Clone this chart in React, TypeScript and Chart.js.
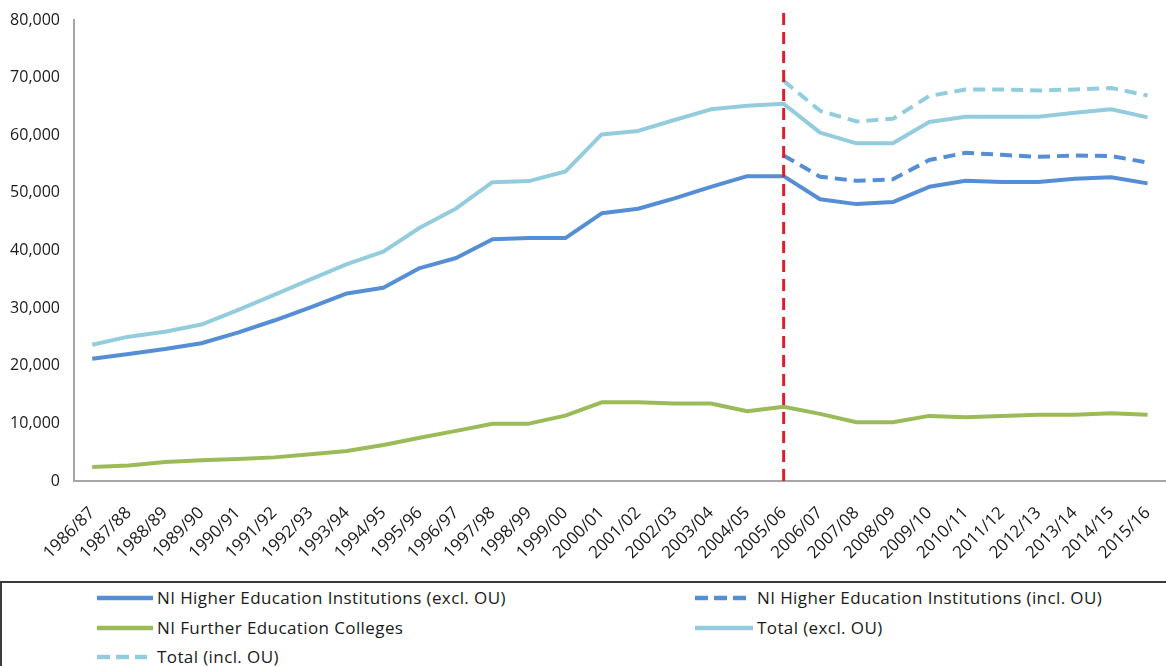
import React, { useEffect, useRef } from "react";
import { Chart, registerables } from "chart.js";

Chart.register(...registerables);

const years = [
  "1986/87", "1987/88", "1988/89", "1989/90", "1990/91", "1991/92", "1992/93", "1993/94",
  "1994/95", "1995/96", "1996/97", "1997/98", "1998/99", "1999/00", "2000/01", "2001/02",
  "2002/03", "2003/04", "2004/05", "2005/06", "2006/07", "2007/08", "2008/09", "2009/10",
  "2010/11", "2011/12", "2012/13", "2013/14", "2014/15", "2015/16",
];

const heiExcl = [
  21200, 22050, 22900, 23900, 25750, 27850, 30150, 32550, 33550, 36950, 38700, 41950,
  42150, 42150, 46450, 47250, 49050, 51050, 52900, 52900, 48900, 48050, 48400, 51050,
  52100, 51900, 51900, 52450, 52700, 51650,
];

const heiIncl = [
  null, null, null, null, null, null, null, null, null, null, null, null, null, null, null,
  null, null, null, null, 56500, 52800, 52100, 52350, 55700, 56950, 56600, 56250, 56500,
  56400, 55250,
];

const feColleges = [
  2450, 2700, 3300, 3600, 3800, 4100, 4650, 5200, 6250, 7500, 8700, 9950, 9950, 11350,
  13650, 13650, 13450, 13450, 12100, 12900, 11650, 10200, 10200, 11300, 11050, 11300,
  11500, 11500, 11750, 11500,
];

const totalExcl = [
  23650, 25050, 25900, 27150, 29650, 32300, 35000, 37650, 39800, 43950, 47300, 51850,
  52050, 53700, 60150, 60750, 62650, 64500, 65100, 65450, 60450, 58600, 58600, 62300,
  63200, 63200, 63200, 63900, 64500, 63100,
];

const totalIncl = [
  null, null, null, null, null, null, null, null, null, null, null, null, null, null, null,
  null, null, null, null, 69450, 64250, 62400, 62850, 66800, 67950, 67950, 67750, 67950,
  68200, 66900,
];

const seriesNames = [
  "NI Higher Education Institutions (excl. OU)",
  "NI Higher Education Institutions (incl. OU)",
  "NI Further Education Colleges",
  "Total (excl. OU)",
  "Total (incl. OU)",
];

const markerYear = "2005/06";

const DARK_BLUE = "#558ed5";
const LIGHT_BLUE = "#93cddd";
const GREEN = "#9bbb59";
const RED = "#dd2027";
const FONT = "'Open Sans', 'Noto Sans', sans-serif";

const W = 1176;
const H = 580;

const markerPlugin = {
  id: "markerLine",
  afterDatasetsDraw(chart: any) {
    const x = chart.scales.x.getPixelForValue(years.indexOf(markerYear));
    const ctx = chart.ctx;
    ctx.save();
    ctx.strokeStyle = RED;
    ctx.lineWidth = 3;
    ctx.setLineDash([12, 7]);
    ctx.beginPath();
    ctx.moveTo(x, chart.chartArea.top - 7);
    ctx.lineTo(x, chart.chartArea.bottom);
    ctx.stroke();
    ctx.restore();
  },
};

const legendItems = [
  { name: seriesNames[0], color: DARK_BLUE, dash: false, col: 0, row: 0 },
  { name: seriesNames[1], color: DARK_BLUE, dash: true, col: 1, row: 0 },
  { name: seriesNames[2], color: GREEN, dash: false, col: 0, row: 1 },
  { name: seriesNames[3], color: LIGHT_BLUE, dash: false, col: 1, row: 1 },
  { name: seriesNames[4], color: LIGHT_BLUE, dash: true, col: 0, row: 2 },
];

export default function App() {
  const ref = useRef<HTMLCanvasElement>(null);

  useEffect(() => {
    if (!ref.current) return;
    const mk = (label: string, data: any[], color: string, dashed: boolean) => ({
      label,
      data,
      borderColor: color,
      backgroundColor: color,
      borderWidth: 4,
      borderDash: dashed ? [12, 7] : [],
      pointRadius: 0,
      tension: 0,
      fill: false,
      borderJoinStyle: "round" as const,
    });
    const chart = new Chart(ref.current, {
      type: "line",
      data: {
        labels: years,
        datasets: [
          mk(seriesNames[2], feColleges, GREEN, false),
          mk(seriesNames[3], totalExcl, LIGHT_BLUE, false),
          mk(seriesNames[4], totalIncl, LIGHT_BLUE, true),
          mk(seriesNames[0], heiExcl, DARK_BLUE, false),
          mk(seriesNames[1], heiIncl, DARK_BLUE, true),
        ],
      },
      options: {
        responsive: false,
        animation: false,
        devicePixelRatio: 1,
        layout: { padding: { top: 20, left: 0, right: 0, bottom: 0 } },
        plugins: {
          legend: { display: false },
          tooltip: { enabled: false },
        },
        scales: {
          x: {
            type: "category",
            offset: true,
            grid: { display: false },
            border: { display: true, color: "#a6a6a6", width: 2 },
            ticks: {
              minRotation: 45,
              maxRotation: 45,
              autoSkip: false,
              padding: 14,
              color: "#1a1a1a",
              font: { family: FONT, size: 17 },
            },
            afterFit: (s: any) => {
              s.height = 99;
            },
          },
          y: {
            min: 0,
            max: 80000,
            grid: { display: false },
            border: { display: true, color: "#a6a6a6", width: 2 },
            ticks: {
              stepSize: 10000,
              padding: 6,
              color: "#1a1a1a",
              font: { family: FONT, size: 16 },
            },
            afterFit: (s: any) => {
              s.width = 74;
            },
          },
        },
      },
      plugins: [markerPlugin],
    });
    return () => chart.destroy();
  }, []);

  return (
    <div>
      <div style={{ position: "fixed", left: 0, top: 0, width: W, height: H }}>
        <canvas ref={ref} width={W} height={H} style={{ width: W, height: H }} />
      </div>
      <div
        style={{
          position: "fixed",
          left: 0,
          top: 581,
          width: 1200,
          height: 120,
          border: "2px solid #3c3c3c",
          boxSizing: "border-box",
          background: "#fff",
          fontFamily: FONT,
          fontSize: 17,
          letterSpacing: "0.4px",
          color: "#1a1a1a",
        }}
      >
        {legendItems.map((it, i) => {
          const cy = 15 + it.row * 29.5;
          const sx = it.col === 0 ? 95 : 693;
          const sw = it.col === 0 ? (it.dash ? 50 : 56) : it.dash ? 51 : 58;
          const tx = it.col === 0 ? 155 : 755;
          return (
            <React.Fragment key={i}>
              <svg
                width={sw}
                height={8}
                style={{ position: "absolute", left: sx, top: cy - 4 }}
              >
                <line
                  x1={0}
                  y1={4}
                  x2={sw}
                  y2={4}
                  stroke={it.color}
                  strokeWidth={4.5}
                  strokeDasharray={it.dash ? "13 6" : undefined}
                />
              </svg>
              <div
                style={{
                  position: "absolute",
                  left: tx,
                  top: cy - 12,
                  lineHeight: "24px",
                  whiteSpace: "nowrap",
                }}
              >
                {it.name}
              </div>
            </React.Fragment>
          );
        })}
      </div>
    </div>
  );
}
